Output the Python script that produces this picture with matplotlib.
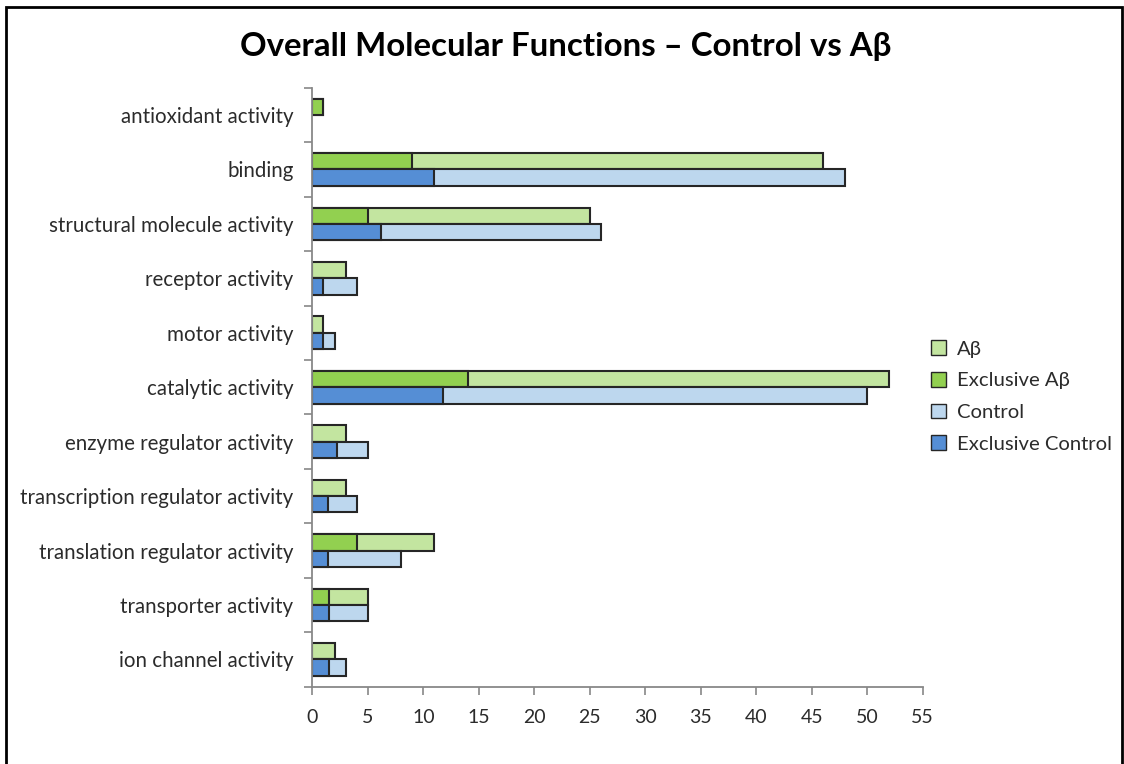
import numpy as np
import matplotlib
matplotlib.use("Agg")
import matplotlib.pyplot as plt
from matplotlib.patches import Rectangle, Patch

# categories, top to bottom
categories = ['antioxidant activity', 'binding', 'structural molecule activity',
              'receptor activity', 'motor activity', 'catalytic activity',
              'enzyme regulator activity', 'transcription regulator activity',
              'translation regulator activity', 'transporter activity',
              'ion channel activity']
ab = [1, 46, 25, 3, 1, 52, 3, 3, 11, 5, 2]
excl_ab = [1, 9, 5, 0, 0, 14, 0, 0, 4, 1.5, 0]
control = [0, 48, 26, 4, 2, 50, 5, 4, 8, 5, 3]
excl_control = [0, 11, 6.2, 1, 1, 11.8, 2.2, 1.4, 1.4, 1.5, 1.5]
xticks = list(range(0, 56, 5))

plt.rcParams['font.family'] = ['Lato', 'DejaVu Sans']
text_color = '#2b2b2b'

fig = plt.figure(figsize=(11.24, 7.64), dpi=100)
ax = fig.add_axes([0.2779, 0.1012, 0.5430, 0.784])

# frame around the whole picture
fig.patches.append(Rectangle((6 / 1124, -0.05), 1116 / 1124, 1.05 - 7 / 764,
                             transform=fig.transFigure, fill=False,
                             edgecolor='black', linewidth=2))

y = np.arange(len(categories))
h = 0.3
edge = '#262626'

def edges(vals):
    return [edge if v > 0 else 'none' for v in vals]

ax.barh(y - h / 2, ab, height=h, color='#C3E5A0', edgecolor=edges(ab), linewidth=1.5, label='A\u03b2')
ax.barh(y - h / 2, excl_ab, height=h, color='#92D050', edgecolor=edges(excl_ab), linewidth=1.5, label='Exclusive A\u03b2')
ax.barh(y + h / 2, control, height=h, color='#BDD7EE', edgecolor=edges(control), linewidth=1.5, label='Control')
ax.barh(y + h / 2, excl_control, height=h, color='#558ED5', edgecolor=edges(excl_control), linewidth=1.5, label='Exclusive Control')

ax.set_xlim(0, 55)
ax.set_ylim(len(categories) - 0.5, -0.5)
ax.set_xticks(xticks)
ax.set_xticklabels([str(t) for t in xticks], fontsize=14, color=text_color)

# Excel style: tick marks between categories, labels centred
ax.set_yticks(np.arange(len(categories) + 1) - 0.5)
ax.set_yticklabels([])
ax.set_yticks(y, minor=True)
ax.set_yticklabels(categories, minor=True, fontsize=14.8, color=text_color)
ax.tick_params(axis='y', which='minor', length=0, pad=13.5)
ax.tick_params(axis='y', which='major', length=6, color='#888888', width=1.2)
ax.tick_params(axis='x', length=6, color='#888888', width=1.2, pad=10)

for s in ['top', 'right']:
    ax.spines[s].set_visible(False)
for s in ['left', 'bottom']:
    ax.spines[s].set_color('#888888')
    ax.spines[s].set_linewidth(1.3)

fig.text(0.503, 0.939, 'Overall Molecular Functions \u2013 Control vs A\u03b2',
         ha='center', va='center', fontsize=23.8, fontweight='bold', color='black')

handles = [Patch(facecolor='#C3E5A0', edgecolor=edge, label='A\u03b2'),
           Patch(facecolor='#92D050', edgecolor=edge, label='Exclusive A\u03b2'),
           Patch(facecolor='#BDD7EE', edgecolor=edge, label='Control'),
           Patch(facecolor='#558ED5', edgecolor=edge, label='Exclusive Control')]
leg = fig.legend(handles=handles, loc='center left', bbox_to_anchor=(0.812, 0.481),
                 frameon=False, fontsize=14.6, handlelength=0.75, handleheight=0.75,
                 labelspacing=0.7, handletextpad=0.55)
for t in leg.get_texts():
    t.set_color(text_color)

fig.savefig('out.png', dpi=100)
